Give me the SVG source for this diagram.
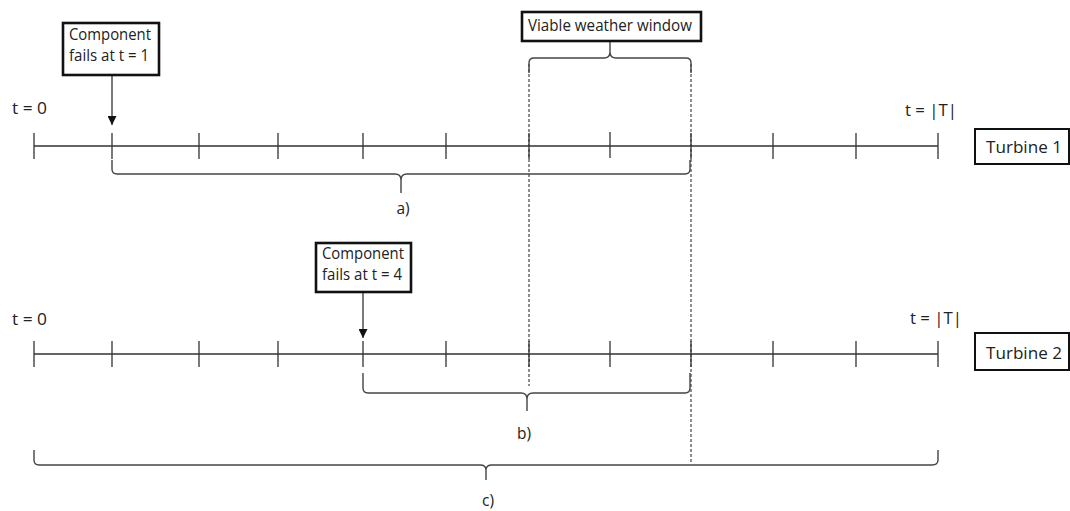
<svg xmlns="http://www.w3.org/2000/svg" width="1070" height="511" viewBox="0 0 1070 511">
<defs>
<style>
.ln{stroke:#333;stroke-width:1.3;fill:none}
.br{stroke:#444;stroke-width:1.4;fill:none}
.dash{stroke:#333;stroke-width:1.1;stroke-dasharray:3 2;fill:none}
.box{fill:#fff;stroke:#111;stroke-width:2.6}
.tbox{fill:#fff;stroke:#111;stroke-width:2}
text{font-family:"Open Sans","Liberation Sans",Arial,sans-serif;font-size:15.5px;fill:#222}
</style>
<marker id="ah" viewBox="0 0 10 10" refX="10" refY="5" markerWidth="9" markerHeight="9" markerUnits="userSpaceOnUse" orient="auto">
<path d="M0,0 L10,5 L0,10 z" fill="#111"/>
</marker>
</defs>
<rect width="1070" height="511" fill="#fff"/>

<g id="connectors">
<line class="dash" x1="529" y1="64" x2="529" y2="386"/>
<line class="dash" x1="691" y1="64" x2="691" y2="462"/>
<path class="ln" d="M34,146 H938 M34,133 V159 M112,133 V159 M199,133 V159 M278,133 V159 M363,133 V159 M446,133 V159 M529,133 V159 M610,132 V158 M691,133 V159 M773,133 V159 M856,133 V159 M938,133 V159"/>
<path class="ln" d="M34,354 H938 M34,341 V367 M112,341 V367 M199,341 V367 M278,341 V367 M363,341 V367 M446,341 V367 M529,341 V367 M610,341 V367 M691,341 V367 M773,341 V367 M856,341 V367 M938,341 V367"/>
<line class="ln" x1="112" y1="75" x2="112" y2="125" marker-end="url(#ah)"/>
<line class="ln" x1="363" y1="292" x2="363" y2="338" marker-end="url(#ah)"/>
<path class="br" d="M529,73 V63 Q529,58 534,58 H604 Q610,58 610,52 V41 M610,52 Q610,58 616,58 H686 Q691,58 691,63 V73"/>
<path class="br" d="M112,160 V169 Q112,174 117,174 H395 Q401,174 401,180 V193 M401,180 Q401,174 407,174 H685 Q690,174 690,169 V160"/>
<path class="br" d="M363,373 V388 Q363,393 368,393 H521 Q527,393 527,399 V411 M527,399 Q527,393 533,393 H685 Q690,393 690,388 V373"/>
<path class="br" d="M34,450 V460 Q34,465 39,465 H480 Q486,465 486,470 V480 M486,470 Q486,465 492,465 H932 Q938,465 938,460 V450"/>
</g>

<g id="label-t0-1"><text x="12" y="114" textLength="35" lengthAdjust="spacingAndGlyphs">t = 0</text></g>
<g id="label-T-1"><text x="905" y="116" textLength="52" lengthAdjust="spacingAndGlyphs">t = |T|</text></g>
<g id="label-t0-2"><text x="12" y="325" textLength="35" lengthAdjust="spacingAndGlyphs">t = 0</text></g>
<g id="label-T-2"><text x="910" y="324" textLength="52" lengthAdjust="spacingAndGlyphs">t = |T|</text></g>

<g id="fail1">
<rect class="box" x="63" y="23" width="96" height="52"/>
<text x="69" y="40" textLength="82" lengthAdjust="spacingAndGlyphs">Component</text>
<text x="69" y="61" textLength="80" lengthAdjust="spacingAndGlyphs">fails at t = 1</text>
</g>

<g id="fail4">
<rect class="box" x="316" y="243" width="95" height="49"/>
<text x="322" y="259" textLength="82" lengthAdjust="spacingAndGlyphs">Component</text>
<text x="322" y="280" textLength="80" lengthAdjust="spacingAndGlyphs">fails at t = 4</text>
</g>

<g id="window">
<rect class="box" x="522" y="12" width="179" height="29"/>
<text x="528" y="31" textLength="164" lengthAdjust="spacingAndGlyphs">Viable weather window</text>
</g>

<g id="turbine1">
<rect class="tbox" x="975" y="129" width="94" height="35"/>
<text x="986" y="153" textLength="76" lengthAdjust="spacingAndGlyphs">Turbine 1</text>
</g>

<g id="turbine2">
<rect class="tbox" x="975" y="333" width="94" height="37"/>
<text x="986" y="359" textLength="76" lengthAdjust="spacingAndGlyphs">Turbine 2</text>
</g>

<g id="label-a"><text x="403" y="214" text-anchor="middle">a)</text></g>
<g id="label-b"><text x="524" y="439" text-anchor="middle">b)</text></g>
<g id="label-c"><text x="488" y="506" text-anchor="middle">c)</text></g>
</svg>
